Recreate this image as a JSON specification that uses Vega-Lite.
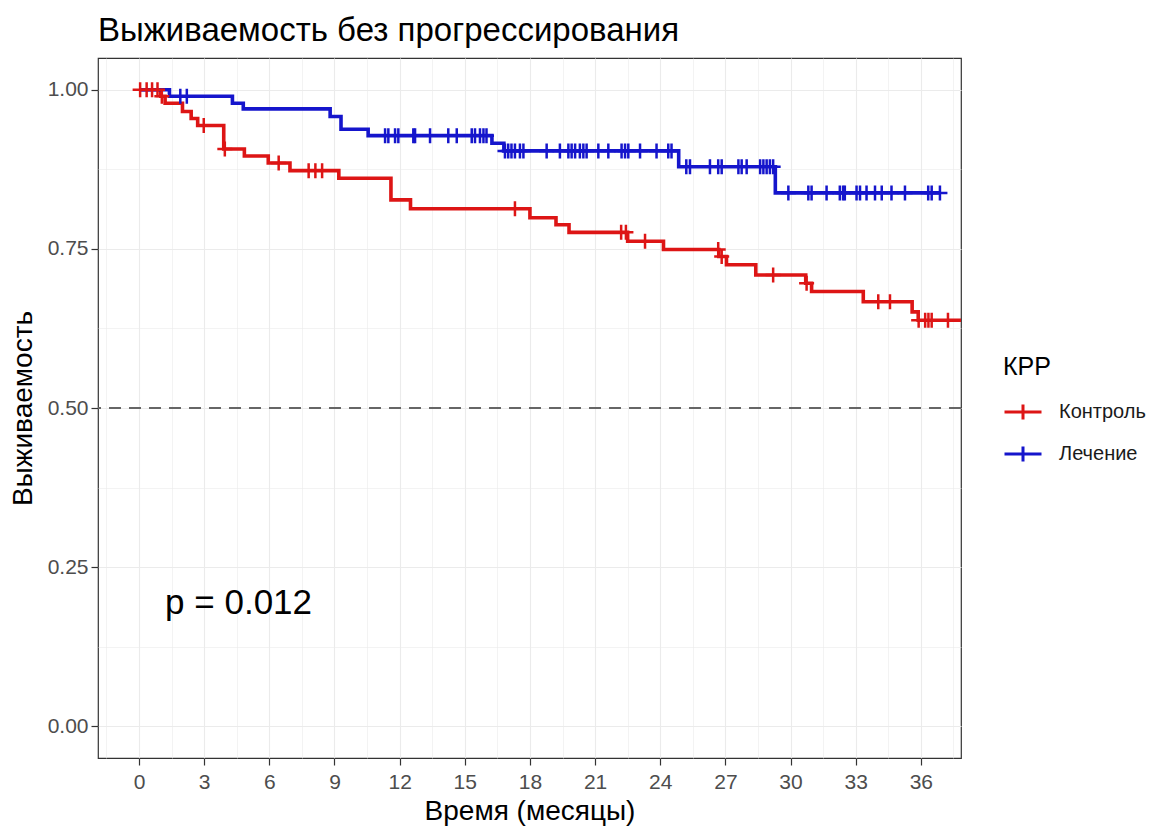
{
  "$schema": "https://vega.github.io/schema/vega-lite/v6.json",
  "autosize": {"type": "none"},
  "width": 863,
  "height": 700,
  "padding": {"left": 98, "top": 58, "right": 193, "bottom": 69},
  "background": "white",
  "config": {
    "font": "Liberation Sans",
    "view": {"stroke": "#333333", "strokeWidth": 1.2},
    "axis": {"domain": false, "gridColor": "#EBEBEB", "tickColor": "#333333", "tickSize": 7, "tickWidth": 1.2, "labelColor": "#4D4D4D", "labelFontSize": 21, "labelFont": "Liberation Sans", "titleFont": "Liberation Sans", "titleFontSize": 28, "titleFontWeight": "normal", "titleColor": "#000000"},
    "legend": {"titleFont": "Liberation Sans", "labelFont": "Liberation Sans"},
    "title": {"font": "Liberation Sans", "fontSize": 33, "fontWeight": "normal", "color": "#000000", "anchor": "start", "frame": "group", "offset": 10}
  },
  "title": "Выживаемость без прогрессирования",
  "resolve": {"axis": {"x": "independent", "y": "independent"}},
  "datasets": {
    "steps": [
      {"grp": "Контроль", "t": 0, "s": 1.0},
      {"grp": "Контроль", "t": 1.0, "s": 0.99},
      {"grp": "Контроль", "t": 1.2, "s": 0.979},
      {"grp": "Контроль", "t": 2.0, "s": 0.966},
      {"grp": "Контроль", "t": 2.4, "s": 0.955},
      {"grp": "Контроль", "t": 2.7, "s": 0.944},
      {"grp": "Контроль", "t": 3.9, "s": 0.907},
      {"grp": "Контроль", "t": 4.85, "s": 0.896},
      {"grp": "Контроль", "t": 5.95, "s": 0.885},
      {"grp": "Контроль", "t": 6.95, "s": 0.873},
      {"grp": "Контроль", "t": 9.2, "s": 0.861},
      {"grp": "Контроль", "t": 11.6, "s": 0.827},
      {"grp": "Контроль", "t": 12.5, "s": 0.813},
      {"grp": "Контроль", "t": 18.0, "s": 0.799},
      {"grp": "Контроль", "t": 19.2, "s": 0.788},
      {"grp": "Контроль", "t": 19.8, "s": 0.776},
      {"grp": "Контроль", "t": 22.5, "s": 0.762},
      {"grp": "Контроль", "t": 24.15, "s": 0.749},
      {"grp": "Контроль", "t": 26.7, "s": 0.738},
      {"grp": "Контроль", "t": 27.05, "s": 0.725},
      {"grp": "Контроль", "t": 28.4, "s": 0.709},
      {"grp": "Контроль", "t": 30.7, "s": 0.696},
      {"grp": "Контроль", "t": 30.97, "s": 0.683},
      {"grp": "Контроль", "t": 33.35, "s": 0.667},
      {"grp": "Контроль", "t": 35.6, "s": 0.651},
      {"grp": "Контроль", "t": 35.88, "s": 0.638},
      {"grp": "Контроль", "t": 38.5, "s": 0.638},
      {"grp": "Лечение", "t": 0, "s": 1.0},
      {"grp": "Лечение", "t": 1.4, "s": 0.99},
      {"grp": "Лечение", "t": 4.3, "s": 0.979},
      {"grp": "Лечение", "t": 4.8, "s": 0.97},
      {"grp": "Лечение", "t": 8.8, "s": 0.958},
      {"grp": "Лечение", "t": 9.3, "s": 0.938},
      {"grp": "Лечение", "t": 10.55, "s": 0.928},
      {"grp": "Лечение", "t": 16.25, "s": 0.916},
      {"grp": "Лечение", "t": 16.8, "s": 0.904},
      {"grp": "Лечение", "t": 24.85, "s": 0.879},
      {"grp": "Лечение", "t": 29.3, "s": 0.838},
      {"grp": "Лечение", "t": 36.9, "s": 0.838}
    ],
    "censor": [
      {"grp": "Контроль", "t": 0.05, "s": 1.0},
      {"grp": "Контроль", "t": 0.35, "s": 1.0},
      {"grp": "Контроль", "t": 0.6, "s": 1.0},
      {"grp": "Контроль", "t": 0.85, "s": 1.0},
      {"grp": "Контроль", "t": 1.05, "s": 0.99},
      {"grp": "Контроль", "t": 2.98, "s": 0.944},
      {"grp": "Контроль", "t": 3.95, "s": 0.907},
      {"grp": "Контроль", "t": 6.43, "s": 0.885},
      {"grp": "Контроль", "t": 7.81, "s": 0.873},
      {"grp": "Контроль", "t": 8.12, "s": 0.873},
      {"grp": "Контроль", "t": 8.43, "s": 0.873},
      {"grp": "Контроль", "t": 17.31, "s": 0.813},
      {"grp": "Контроль", "t": 22.2, "s": 0.776},
      {"grp": "Контроль", "t": 22.42, "s": 0.776},
      {"grp": "Контроль", "t": 23.3, "s": 0.762},
      {"grp": "Контроль", "t": 26.67, "s": 0.749},
      {"grp": "Контроль", "t": 26.83, "s": 0.738},
      {"grp": "Контроль", "t": 29.2, "s": 0.709},
      {"grp": "Контроль", "t": 30.74, "s": 0.696},
      {"grp": "Контроль", "t": 34.04, "s": 0.667},
      {"grp": "Контроль", "t": 34.58, "s": 0.667},
      {"grp": "Контроль", "t": 35.9, "s": 0.638},
      {"grp": "Контроль", "t": 36.2, "s": 0.638},
      {"grp": "Контроль", "t": 36.35, "s": 0.638},
      {"grp": "Контроль", "t": 36.5, "s": 0.638},
      {"grp": "Контроль", "t": 37.25, "s": 0.638},
      {"grp": "Лечение", "t": 1.9, "s": 0.99},
      {"grp": "Лечение", "t": 2.2, "s": 0.99},
      {"grp": "Лечение", "t": 11.33, "s": 0.928},
      {"grp": "Лечение", "t": 11.48, "s": 0.928},
      {"grp": "Лечение", "t": 11.79, "s": 0.928},
      {"grp": "Лечение", "t": 11.94, "s": 0.928},
      {"grp": "Лечение", "t": 12.63, "s": 0.928},
      {"grp": "Лечение", "t": 12.71, "s": 0.928},
      {"grp": "Лечение", "t": 13.4, "s": 0.928},
      {"grp": "Лечение", "t": 14.24, "s": 0.928},
      {"grp": "Лечение", "t": 14.63, "s": 0.928},
      {"grp": "Лечение", "t": 15.32, "s": 0.928},
      {"grp": "Лечение", "t": 15.47, "s": 0.928},
      {"grp": "Лечение", "t": 15.7, "s": 0.928},
      {"grp": "Лечение", "t": 15.86, "s": 0.928},
      {"grp": "Лечение", "t": 16.0, "s": 0.928},
      {"grp": "Лечение", "t": 16.85, "s": 0.904},
      {"grp": "Лечение", "t": 17.0, "s": 0.904},
      {"grp": "Лечение", "t": 17.15, "s": 0.904},
      {"grp": "Лечение", "t": 17.31, "s": 0.904},
      {"grp": "Лечение", "t": 17.54, "s": 0.904},
      {"grp": "Лечение", "t": 17.7, "s": 0.904},
      {"grp": "Лечение", "t": 18.77, "s": 0.904},
      {"grp": "Лечение", "t": 19.38, "s": 0.904},
      {"grp": "Лечение", "t": 19.77, "s": 0.904},
      {"grp": "Лечение", "t": 19.92, "s": 0.904},
      {"grp": "Лечение", "t": 20.08, "s": 0.904},
      {"grp": "Лечение", "t": 20.3, "s": 0.904},
      {"grp": "Лечение", "t": 20.46, "s": 0.904},
      {"grp": "Лечение", "t": 20.61, "s": 0.904},
      {"grp": "Лечение", "t": 21.15, "s": 0.904},
      {"grp": "Лечение", "t": 21.61, "s": 0.904},
      {"grp": "Лечение", "t": 22.22, "s": 0.904},
      {"grp": "Лечение", "t": 22.38, "s": 0.904},
      {"grp": "Лечение", "t": 22.53, "s": 0.904},
      {"grp": "Лечение", "t": 23.07, "s": 0.904},
      {"grp": "Лечение", "t": 23.83, "s": 0.904},
      {"grp": "Лечение", "t": 24.37, "s": 0.904},
      {"grp": "Лечение", "t": 24.52, "s": 0.904},
      {"grp": "Лечение", "t": 25.2, "s": 0.879},
      {"grp": "Лечение", "t": 25.37, "s": 0.879},
      {"grp": "Лечение", "t": 26.29, "s": 0.879},
      {"grp": "Лечение", "t": 26.67, "s": 0.879},
      {"grp": "Лечение", "t": 26.83, "s": 0.879},
      {"grp": "Лечение", "t": 27.6, "s": 0.879},
      {"grp": "Лечение", "t": 27.75, "s": 0.879},
      {"grp": "Лечение", "t": 27.98, "s": 0.879},
      {"grp": "Лечение", "t": 28.6, "s": 0.879},
      {"grp": "Лечение", "t": 28.75, "s": 0.879},
      {"grp": "Лечение", "t": 28.9, "s": 0.879},
      {"grp": "Лечение", "t": 29.05, "s": 0.879},
      {"grp": "Лечение", "t": 29.2, "s": 0.879},
      {"grp": "Лечение", "t": 29.9, "s": 0.838},
      {"grp": "Лечение", "t": 30.82, "s": 0.838},
      {"grp": "Лечение", "t": 30.97, "s": 0.838},
      {"grp": "Лечение", "t": 31.66, "s": 0.838},
      {"grp": "Лечение", "t": 32.27, "s": 0.838},
      {"grp": "Лечение", "t": 32.42, "s": 0.838},
      {"grp": "Лечение", "t": 32.5, "s": 0.838},
      {"grp": "Лечение", "t": 33.04, "s": 0.838},
      {"grp": "Лечение", "t": 33.2, "s": 0.838},
      {"grp": "Лечение", "t": 33.5, "s": 0.838},
      {"grp": "Лечение", "t": 33.89, "s": 0.838},
      {"grp": "Лечение", "t": 34.2, "s": 0.838},
      {"grp": "Лечение", "t": 34.65, "s": 0.838},
      {"grp": "Лечение", "t": 35.27, "s": 0.838},
      {"grp": "Лечение", "t": 36.34, "s": 0.838},
      {"grp": "Лечение", "t": 36.5, "s": 0.838},
      {"grp": "Лечение", "t": 36.88, "s": 0.838}
    ],
    "pval": [{"label": "p = 0.012", "t": 1.2, "s": 0.176}],
    "hline": [{"s": 0.5}]
  },
  "layer": [
    {
      "data": {"name": "steps"},
      "mark": {"type": "point", "opacity": 0, "size": 1},
      "encoding": {
        "x": {"field": "t", "type": "quantitative", "scale": {"domain": [-1.89, 37.85], "nice": false, "zero": false},
          "axis": {"orient": "top", "values": [-1.5, 1.5, 4.5, 7.5, 10.5, 13.5, 16.5, 19.5, 22.5, 25.5, 28.5, 31.5, 34.5, 37.5], "grid": true, "gridWidth": 0.6, "labels": false, "ticks": false, "domain": false, "title": null}},
        "y": {"field": "s", "type": "quantitative", "scale": {"domain": [-0.05, 1.05], "nice": false, "zero": false},
          "axis": {"orient": "right", "values": [0.125, 0.375, 0.625, 0.875], "grid": true, "gridWidth": 0.6, "labels": false, "ticks": false, "domain": false, "title": null}}
      }
    },
    {
      "data": {"name": "hline"},
      "mark": {"type": "rule", "color": "#666666", "strokeWidth": 1.8, "strokeDash": [12, 8]},
      "encoding": {
        "y": {"field": "s", "type": "quantitative", "axis": null}
      }
    },
    {
      "data": {"name": "steps"},
      "mark": {"type": "line", "interpolate": "step-after", "strokeWidth": 3.6, "clip": true},
      "encoding": {
        "x": {"field": "t", "type": "quantitative",
          "axis": {"title": "Время (месяцы)", "titlePadding": 5, "labelPadding": 6, "values": [0, 3, 6, 9, 12, 15, 18, 21, 24, 27, 30, 33, 36], "format": "d", "grid": true, "gridWidth": 1.1}},
        "y": {"field": "s", "type": "quantitative",
          "axis": {"title": "Выживаемость", "titlePadding": 10, "labelPadding": 3, "values": [0, 0.25, 0.5, 0.75, 1], "format": ".2f", "grid": true, "gridWidth": 1.1}},
        "color": {"field": "grp", "type": "nominal", "scale": {"domain": ["Контроль", "Лечение"], "range": ["#DD1515", "#1515CC"]}},
        "detail": {"field": "grp"}
      }
    },
    {
      "data": {"name": "censor"},
      "mark": {"type": "point", "shape": "M-1,0H1M0,-1V1", "filled": false, "size": 225, "strokeWidth": 2.5, "opacity": 1, "clip": true},
      "encoding": {
        "x": {"field": "t", "type": "quantitative", "axis": null},
        "y": {"field": "s", "type": "quantitative", "axis": null},
        "color": {"field": "grp", "type": "nominal", "scale": {"domain": ["Контроль", "Лечение"], "range": ["#DD1515", "#1515CC"]},
          "legend": {"title": "КРР", "orient": "none", "legendX": 905, "legendY": 297, "padding": 0,
            "titleFontSize": 25, "titleFontWeight": "normal", "titleColor": "#000000", "titlePadding": 12,
            "labelFontSize": 20, "labelColor": "#1A1A1A", "labelOffset": 16,
            "symbolType": "M-1,0H1M0,-0.4V0.4", "symbolSize": 1369, "symbolStrokeWidth": 3, "rowPadding": 8}}
      }
    },
    {
      "data": {"name": "pval"},
      "mark": {"type": "text", "align": "left", "baseline": "alphabetic", "fontSize": 35, "color": "#000000", "font": "Liberation Sans"},
      "encoding": {
        "x": {"field": "t", "type": "quantitative", "axis": null},
        "y": {"field": "s", "type": "quantitative", "axis": null},
        "text": {"field": "label"}
      }
    }
  ]
}
